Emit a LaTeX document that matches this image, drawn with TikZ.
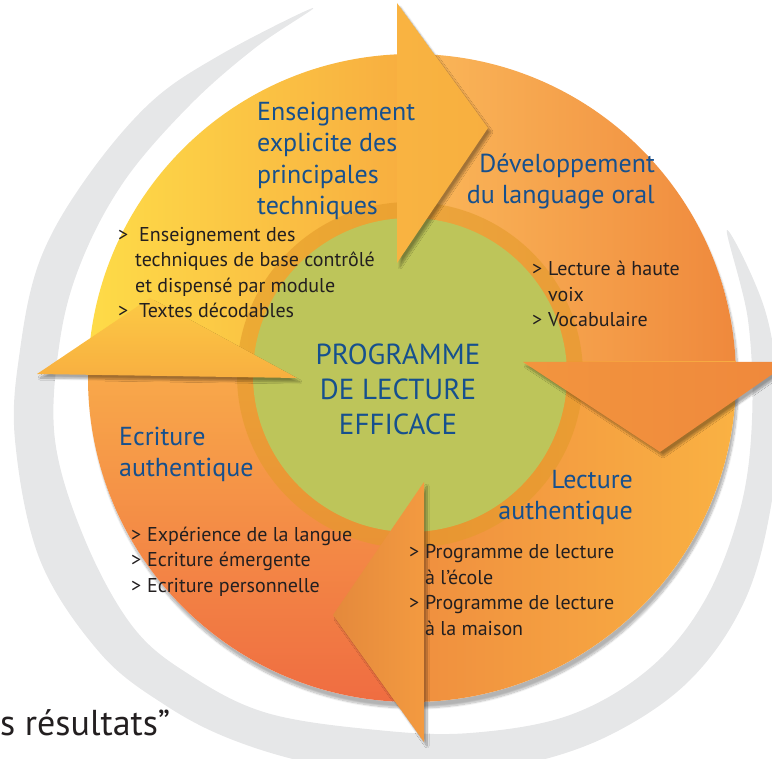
\documentclass[tikz,border=0pt]{standalone}
\usepackage{fontspec}
\setmainfont{PT Sans}
\usetikzlibrary{shadows.blur}
\definecolor{progblue}{HTML}{16508E}
\definecolor{progtext}{HTML}{231F20}
\definecolor{progswoosh}{HTML}{E6E7E8}
\definecolor{progyellowA}{HTML}{FEDC48}
\definecolor{progyellowB}{HTML}{F8AF40}
\definecolor{progorangeA}{HTML}{FBBA5B}
\definecolor{progorangeB}{HTML}{EF883C}
\definecolor{progamberA}{HTML}{F0903F}
\definecolor{progamberB}{HTML}{FAB243}
\definecolor{progredA}{HTML}{F8A84A}
\definecolor{progredB}{HTML}{EF6B41}
\definecolor{progband}{HTML}{E39A2A}
\definecolor{proggreen}{HTML}{BDC55A}
\newcommand{\puce}{\makebox[16pt][l]{>}}
\newcommand{\suite}{\hspace*{16pt}}

\begin{document}
\begin{tikzpicture}[x=1pt, y=-1pt,
        titre/.style={text=progblue, font=\fontsize{26}{31.5}\selectfont,
                      inner sep=0pt, align=left},
        liste/.style={text=progtext, font=\fontsize{20}{25.5}\selectfont,
                      inner sep=0pt, align=left},
        centre/.style={text=progblue, font=\fontsize{29}{35}\selectfont,
                       inner sep=0pt, align=center},
        tete/.style={blur shadow={shadow xshift=3pt, shadow yshift=-4pt,
                     shadow blur steps=10, shadow opacity=35}}
    ]
        \useasboundingbox (0,0) rectangle (772,759);
        \coordinate (c) at (412,378);

        % --- Arc gris ---
        \fill[progswoosh] plot[smooth cycle, tension=0.6] coordinates {
            (313,8) (220,55) (150,103) (85,180) (40,260) (20,350) (15,440)
            (40,560) (100,653) (165,705) (233,740) (320,765) (420,775)
            (520,765) (610,735) (690,680) (745,600) (772,500) (778,400)
            (765,310) (727,230) (748,320) (752,420) (740,510) (705,600)
            (650,668) (570,715) (470,733) (377,730) (267,713) (190,675)
            (133,627) (85,540) (55,440) (60,340) (82,260) (125,180)
            (190,105) (255,48)};

        % --- Anneau ---
        \fill[white, blur shadow={shadow xshift=2pt, shadow yshift=-6pt,
              shadow blur steps=12, shadow opacity=30}]
            (c) circle[radius=324pt];
        \begin{scope}
            \clip (c) circle[radius=324pt];
            \shade[left color=progyellowA, right color=progyellowB]
                (85,40) rectangle (397,376);
            \shade[left color=progorangeA, right color=progorangeB]
                (397,40) rectangle (740,362);
            \shade[left color=progamberA, right color=progamberB]
                (424,362) rectangle (740,710);
            \shade[top color=progredA, bottom color=progredB]
                (85,376) rectangle (424,710);
        \end{scope}
        \fill[progband, opacity=0.6] (410,375) circle[radius=173pt];
        \fill[proggreen] (410,375) circle[radius=157pt];

        % --- Pointes ---
        \shade[tete, left color=progorangeB!70!progamberB, right color=progorangeB]
            (523,362) -- (790,362) -- (660,452) -- cycle;
        \shade[tete, left color=progamberA!95!black, right color=progamberA!70!progamberB]
            (424,482) -- (424,742) -- (333,615) -- cycle;
        \shade[tete, top color=progyellowA!60!progyellowB, bottom color=progyellowB]
            (37,374) -- (297,378) -- (150,298) -- cycle;
        \shade[tete, left color=progyellowB!90!progyellowA, right color=progyellowB]
            (397,3) -- (488,128) -- (397,263) -- cycle;

        % --- Titres (ancre sur la derniere ligne) ---
        \node[titre, anchor=base west] (enseignement) at (257,215)
            {Enseignement\\explicite des\\principales\\techniques};
        \node[titre, anchor=base east, align=right] (devoral) at (655,204)
            {Développement\\du language oral};
        \node[titre, anchor=base west] (ecriture) at (119,477)
            {Ecriture\\authentique};
        \node[titre, anchor=base east, align=right] (lecture) at (633,520)
            {Lecture\\authentique};
        \node[centre, anchor=base] (programme) at (398,435)
            {PROGRAMME\\DE LECTURE\\EFFICACE};

        % --- Listes ---
        \node[liste, anchor=base west] (listeEns) at (118,318)
            {\makebox[21pt][l]{>}Enseignement des\\
             \hspace*{17pt}techniques de base contrôlé\\
             \hspace*{17pt}et dispensé par module\\
             \makebox[21pt][l]{>}Textes décodables};
        \node[liste, anchor=base west] (listeDev) at (532,327)
            {\puce Lecture à haute\\\suite voix\\\puce Vocabulaire};
        \node[liste, anchor=base west] (listeEcr) at (131,592)
            {\puce Expérience de la langue\\\puce Ecriture émergente\\
             \puce Ecriture personnelle};
        \node[liste, anchor=base west] (listeLec) at (409,635)
            {\puce Programme de lecture\\\suite à l’école\\
             \puce Programme de lecture\\\suite à la maison};

        \node[text=progtext, font=\fontsize{36}{40}\selectfont, inner sep=0pt,
              anchor=base west] (resultats) at (0,735) {s résultats”};
    \end{tikzpicture}
\end{document}
